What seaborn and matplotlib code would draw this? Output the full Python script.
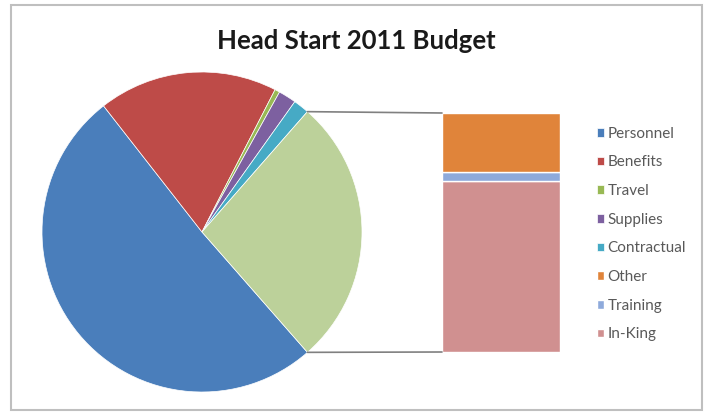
import matplotlib.pyplot as plt
import seaborn as sns
import numpy as np
from matplotlib.patches import ConnectionPatch, Rectangle

# Budget shares (percent of total)
pie_labels = ["Personnel", "Benefits", "Travel", "Supplies", "Contractual"]
pie_values = [50.9, 18.1, 0.5, 1.8, 1.6]
pie_colors = ["#4A7EBB", "#BE4B48", "#98B954", "#7D60A0", "#46AAC5"]

bar_labels = ["Other", "Training", "In-King"]
bar_values = [6.7, 1.03, 19.37]
bar_colors = ["#E0843A", "#8EAADB", "#D09090"]
other_color = "#BCD19A"

sns.set_theme(style="white")
plt.rcParams["font.family"] = ["Lato", "DejaVu Sans"]

fig = plt.figure(figsize=(7.1, 4.12), dpi=100)
W, H = 710, 412

def px_axes(x0, y0, x1, y1):
    return fig.add_axes([x0 / W, 1 - y1 / H, (x1 - x0) / W, (y1 - y0) / H])

# outer frame
fig.patches.append(Rectangle((11 / W, 1 - 410 / H), 691 / W, 405 / H,
                             transform=fig.transFigure, fill=False,
                             edgecolor="#BFBFBF", linewidth=1.5))

fig.text(356 / W, 1 - 41 / H, "Head Start 2011 Budget", ha="center", va="center",
         fontsize=18.5, fontweight="bold", color="#1A1A1A")

# pie
other_total = sum(bar_values)
values = pie_values + [other_total]
half = other_total / sum(values) * 360 / 2
ax_pie = px_axes(42, 72, 362, 392)
wedges, _ = ax_pie.pie(values, colors=pie_colors + [other_color], startangle=-half,
                       counterclock=False,
                       wedgeprops=dict(linewidth=0.5, edgecolor="white"))
ax_pie.set_xlim(-1, 1)
ax_pie.set_ylim(-1, 1)
ax_pie.set_aspect("auto")
ax_pie.axis("off")

# stacked bar for the "other" slice
ax_bar = px_axes(442, 113, 560, 352)
bottom = 0
bar_handles = []
for lab, val, col in zip(bar_labels[::-1], bar_values[::-1], bar_colors[::-1]):
    b = ax_bar.bar(0, val, width=1, bottom=bottom, color=col, label=lab)
    bar_handles.append(b.patches[0])
    bottom += val
bar_handles = bar_handles[::-1]
ax_bar.set_xlim(-0.5, 0.5)
ax_bar.set_ylim(0, other_total)
ax_bar.axis("off")

# connector lines
for ang, yb in [(half, other_total), (-half, 0)]:
    xy = (np.cos(np.radians(ang)), np.sin(np.radians(ang)))
    con = ConnectionPatch(xyA=xy, coordsA=ax_pie.transData,
                          xyB=(-0.5, yb), coordsB=ax_bar.transData,
                          color="#808080", linewidth=1.2)
    fig.add_artist(con)

leg = fig.legend(wedges[:5] + bar_handles, pie_labels + bar_labels,
                 loc="upper left", bbox_to_anchor=(589 / W, 1 - 119 / H),
                 frameon=False, fontsize=11, labelspacing=0.96,
                 handlelength=0.5, handleheight=0.5, handletextpad=0.2,
                 borderpad=0)
for t in leg.get_texts():
    t.set_color("#595959")

fig.savefig("out.png", dpi=100)
